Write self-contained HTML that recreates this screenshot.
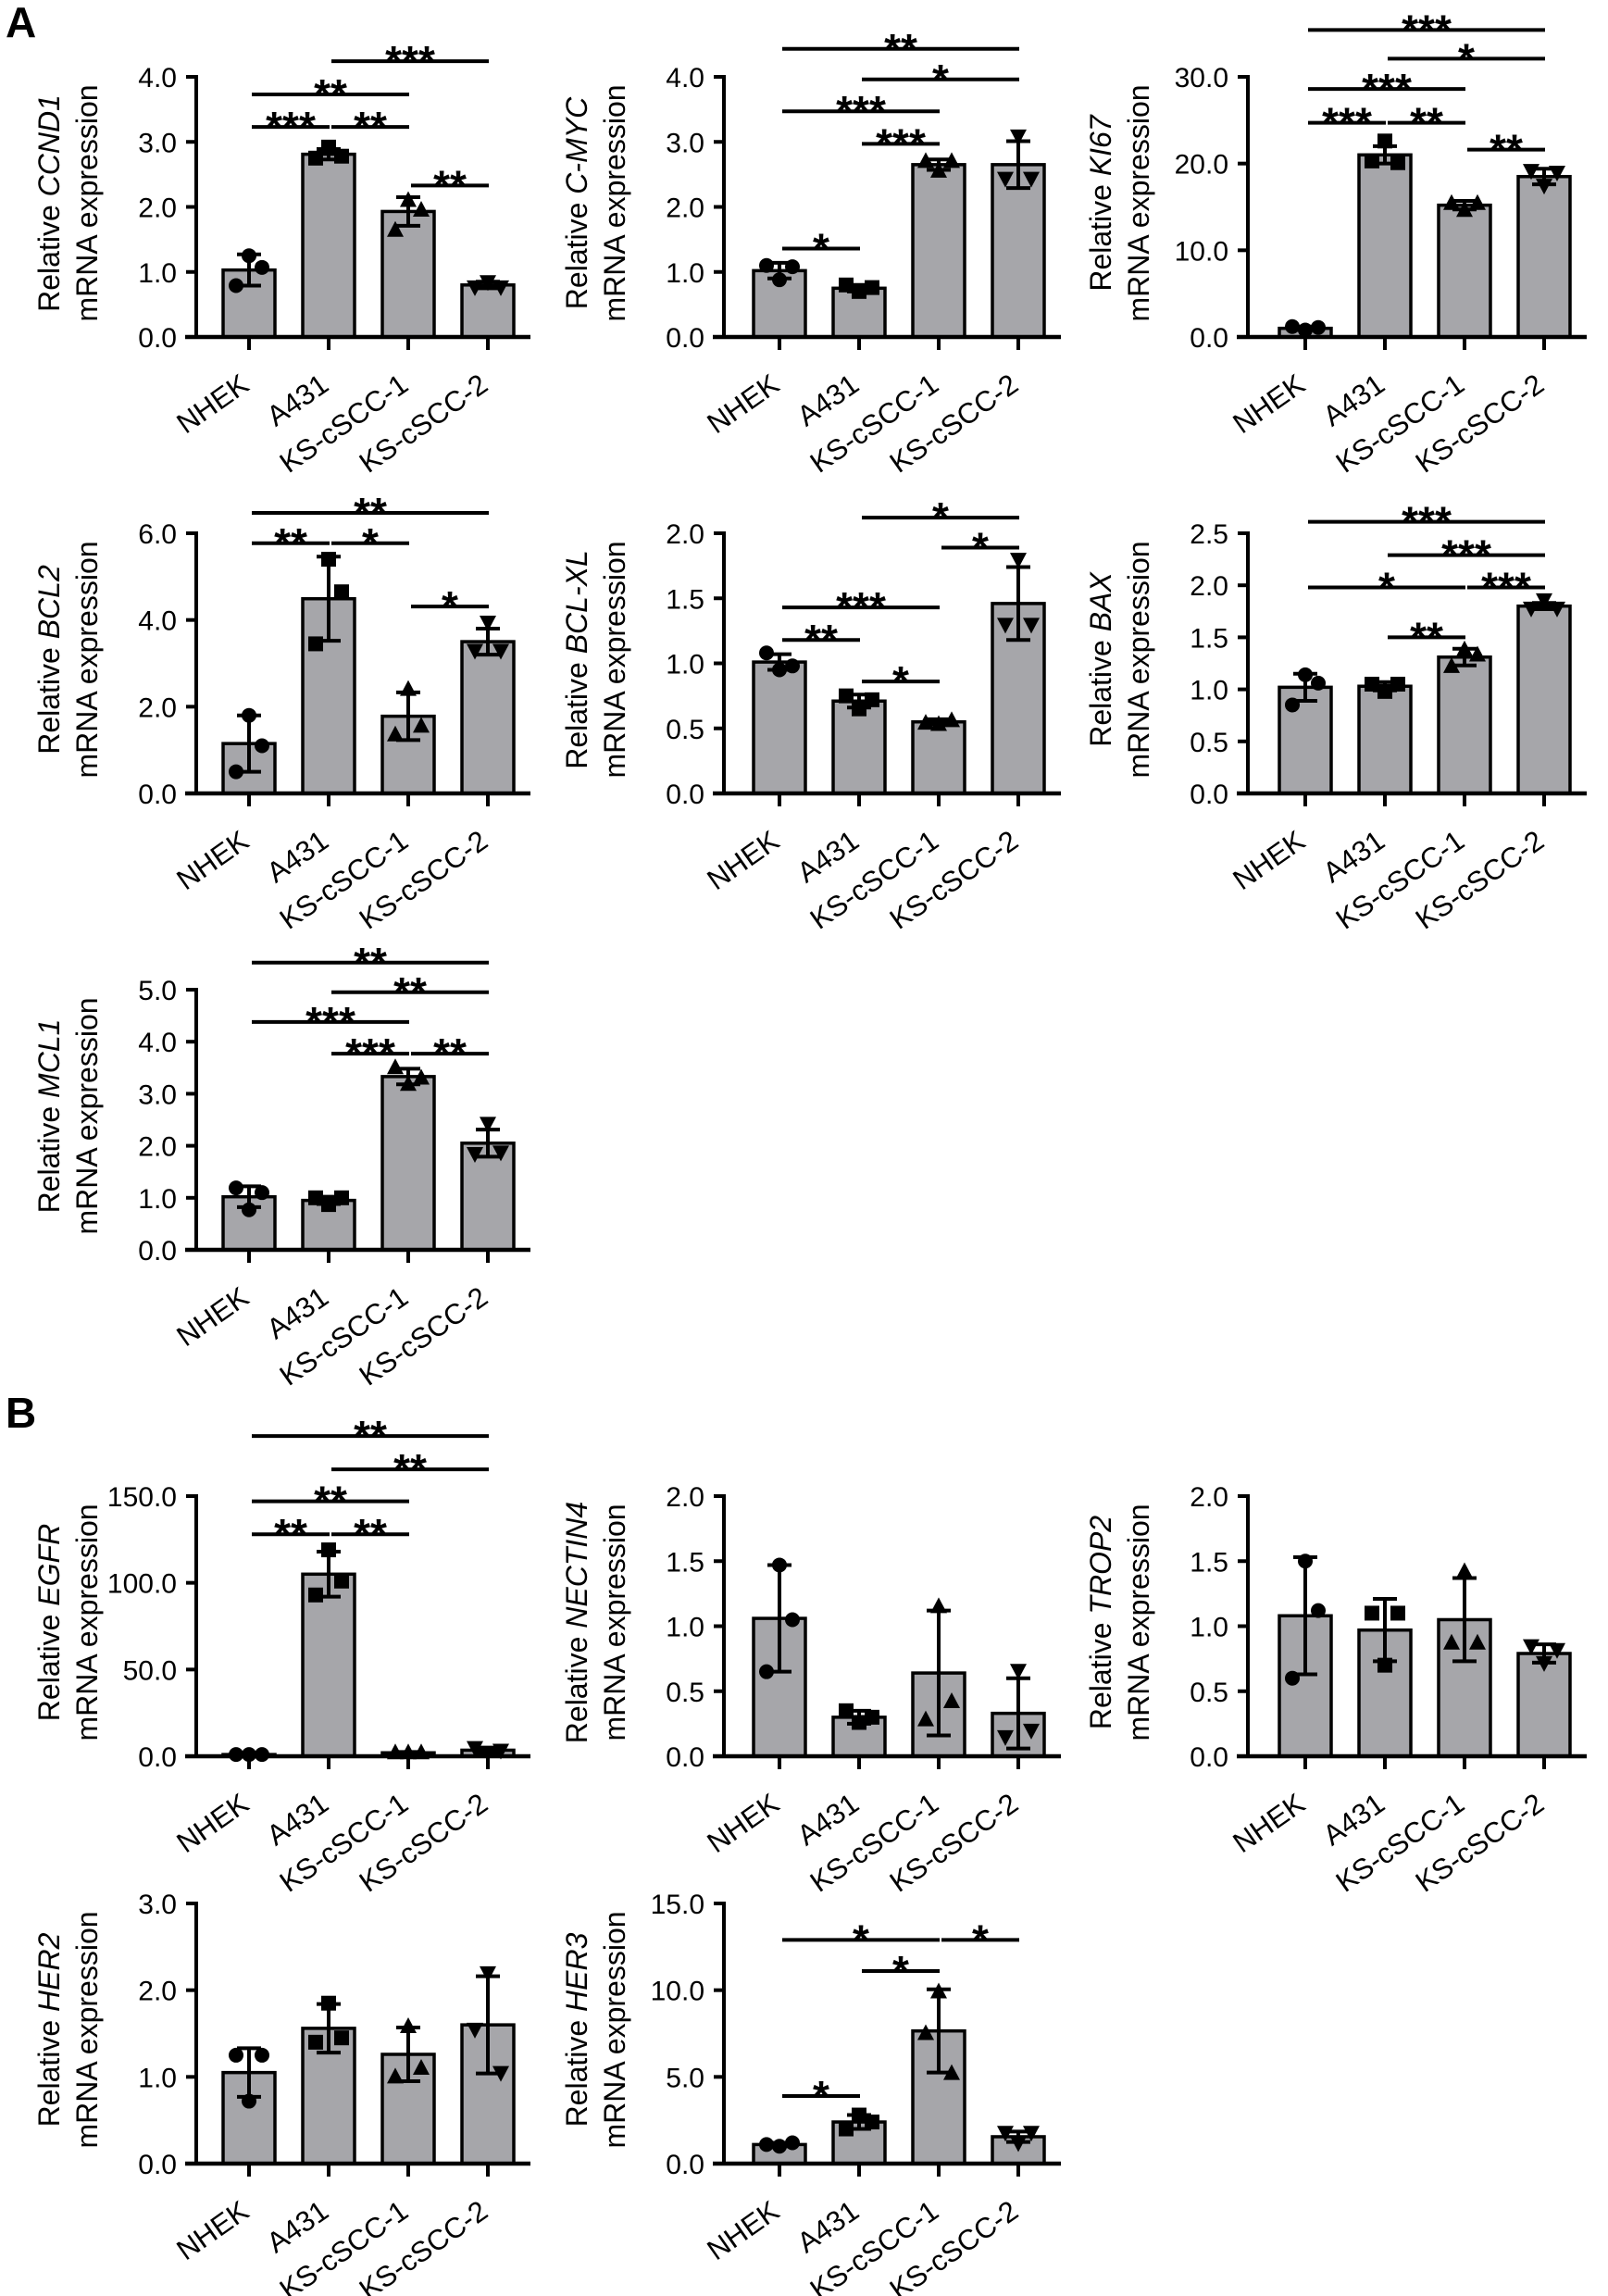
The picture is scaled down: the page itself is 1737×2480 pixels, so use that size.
<!DOCTYPE html>
<html><head><meta charset="utf-8"><title>Relative mRNA expression</title>
<style>
html,body{margin:0;padding:0;background:#fff;}
svg{display:block;font-family:"Liberation Sans",Arial,sans-serif;}
</style></head>
<body>
<svg id="fig" width="1737" height="2480" viewBox="0 0 1737 2480" xmlns="http://www.w3.org/2000/svg">
<text x="6" y="40" font-size="46" font-weight="bold">A</text>
<text x="6" y="1542" font-size="46" font-weight="bold">B</text>
</svg>
<script>
const categories = ['NHEK','A431','KS-cSCC-1','KS-cSCC-2'];

const ccnd1Mean = [1.03,2.81,1.93,0.80];
const ccnd1Sd = [0.24,0.08,0.22,0.05];
const ccnd1Pts = [[0.79,1.25,1.07],[2.75,2.92,2.78],[1.64,2.10,1.95],[0.77,0.85,0.77]];
const ccnd1Ticks = [0,1,2,3,4];
const ccnd1Sig = [[1,3,4.24,'***'],[0,2,3.73,'**'],[0,1,3.23,'***'],[1,2,3.23,'**'],[2,3,2.33,'**']];

const cmycMean = [1.02,0.75,2.65,2.65];
const cmycSd = [0.12,0.05,0.08,0.36];
const cmycPts = [[1.10,0.88,1.08],[0.80,0.70,0.76],[2.70,2.55,2.70],[2.44,3.09,2.44]];
const cmycTicks = [0,1,2,3,4];
const cmycSig = [[0,3,4.43,'**'],[1,3,3.96,'*'],[0,2,3.47,'***'],[1,2,2.97,'***'],[0,1,1.36,'*']];

const ki67Mean = [1.0,21.0,15.2,18.5];
const ki67Sd = [0.2,1.0,0.5,0.9];
const ki67Pts = [[1.2,0.8,1.1],[20.3,22.6,20.1],[15.4,14.6,15.4],[19.2,17.5,19.0]];
const ki67Ticks = [0,10,20,30];
const ki67Sig = [[0,3,35.4,'***'],[1,3,32.1,'*'],[0,2,28.6,'***'],[0,1,24.7,'***'],[1,2,24.7,'**'],[2,3,21.6,'**']];

const bcl2Mean = [1.15,4.49,1.78,3.50];
const bcl2Sd = [0.65,0.97,0.55,0.30];
const bcl2Pts = [[0.50,1.80,1.10],[3.45,5.40,4.65],[1.35,2.40,1.55],[3.30,3.95,3.30]];
const bcl2Ticks = [0,2,4,6];
const bcl2Sig = [[0,3,6.47,'**'],[0,1,5.77,'**'],[1,2,5.77,'*'],[2,3,4.31,'*']];

const bclxlMean = [1.01,0.71,0.55,1.46];
const bclxlSd = [0.06,0.05,0.02,0.28];
const bclxlPts = [[1.08,0.95,0.98],[0.75,0.65,0.72],[0.54,0.53,0.56],[1.30,1.80,1.30]];
const bclxlTicks = [0,0.5,1.0,1.5,2.0];
const bclxlSig = [[1,3,2.12,'*'],[2,3,1.89,'*'],[0,2,1.43,'***'],[0,1,1.18,'**'],[1,2,0.86,'*']];

const baxMean = [1.02,1.03,1.31,1.80];
const baxSd = [0.13,0.04,0.08,0.03];
const baxPts = [[0.85,1.14,1.06],[1.05,0.98,1.05],[1.22,1.38,1.33],[1.78,1.86,1.78]];
const baxTicks = [0,0.5,1.0,1.5,2.0,2.5];
const baxSig = [[0,3,2.61,'***'],[1,3,2.29,'***'],[0,2,1.98,'*'],[2,3,1.98,'***'],[1,2,1.50,'**']];

const mcl1Mean = [1.02,0.95,3.33,2.05];
const mcl1Sd = [0.20,0.07,0.15,0.26];
const mcl1Pts = [[1.19,0.77,1.10],[1.00,0.87,1.00],[3.50,3.18,3.30],[1.85,2.43,1.88]];
const mcl1Ticks = [0,1,2,3,4,5];
const mcl1Sig = [[0,3,5.52,'**'],[1,3,4.95,'**'],[0,2,4.38,'***'],[1,2,3.77,'***'],[2,3,3.77,'**']];

const egfrMean = [1.0,105.0,2.0,3.5];
const egfrSd = [0.3,13.0,0.5,1.5];
const egfrPts = [[1.0,1.0,1.0],[93,119,101],[2,2,2],[5,2,3.5]];
const egfrTicks = [0,50,100,150];
const egfrSig = [[0,3,184.6,'**'],[1,3,165.4,'**'],[0,2,147,'**'],[0,1,128,'**'],[1,2,128,'**']];

const nectin4Mean = [1.06,0.30,0.64,0.33];
const nectin4Sd = [0.41,0.05,0.48,0.27];
const nectin4Pts = [[0.65,1.47,1.05],[0.35,0.26,0.30],[0.28,1.15,0.42],[0.15,0.66,0.20]];
const nectin4Ticks = [0,0.5,1.0,1.5,2.0];
const nectin4Sig = [];

const trop2Mean = [1.08,0.97,1.05,0.79];
const trop2Sd = [0.45,0.24,0.32,0.07];
const trop2Pts = [[0.60,1.50,1.12],[1.10,0.70,1.10],[0.87,1.42,0.87],[0.85,0.72,0.82]];
const trop2Ticks = [0,0.5,1.0,1.5,2.0];
const trop2Sig = [];

const her2Mean = [1.05,1.56,1.26,1.60];
const her2Sd = [0.28,0.28,0.31,0.56];
const her2Pts = [[1.25,0.72,1.25],[1.40,1.85,1.45],[1.00,1.58,1.10],[1.55,2.20,1.05]];
const her2Ticks = [0,1,2,3];
const her2Sig = [];

const her3Mean = [1.1,2.4,7.65,1.55];
const her3Sd = [0.1,0.4,2.4,0.3];
const her3Pts = [[1.1,1.0,1.2],[2.0,2.8,2.4],[7.5,9.9,5.2],[1.8,1.2,1.8]];
const her3Ticks = [0,5,10,15];
const her3Sig = [[0,2,12.9,'*'],[2,3,12.9,'*'],[1,2,11.1,'*'],[0,1,3.9,'*']];

const axisXs = [212, 782, 1348];
const bar0Xs = [269, 842, 1410];
const zeroYs = [364, 857, 1350, 1897, 2337];
const PH = 281, STEP = 86, BW = 56;

const panels = [
 {id:'ccnd1', gene:'CCND1', col:0,row:0, mean:ccnd1Mean, sd:ccnd1Sd, pts:ccnd1Pts, ticks:ccnd1Ticks, sig:ccnd1Sig},
 {id:'cmyc', gene:'C-MYC', col:1,row:0, mean:cmycMean, sd:cmycSd, pts:cmycPts, ticks:cmycTicks, sig:cmycSig},
 {id:'ki67', gene:'KI67', col:2,row:0, mean:ki67Mean, sd:ki67Sd, pts:ki67Pts, ticks:ki67Ticks, sig:ki67Sig},
 {id:'bcl2', gene:'BCL2', col:0,row:1, mean:bcl2Mean, sd:bcl2Sd, pts:bcl2Pts, ticks:bcl2Ticks, sig:bcl2Sig},
 {id:'bclxl', gene:'BCL-XL', col:1,row:1, mean:bclxlMean, sd:bclxlSd, pts:bclxlPts, ticks:bclxlTicks, sig:bclxlSig},
 {id:'bax', gene:'BAX', col:2,row:1, mean:baxMean, sd:baxSd, pts:baxPts, ticks:baxTicks, sig:baxSig},
 {id:'mcl1', gene:'MCL1', col:0,row:2, mean:mcl1Mean, sd:mcl1Sd, pts:mcl1Pts, ticks:mcl1Ticks, sig:mcl1Sig},
 {id:'egfr', gene:'EGFR', col:0,row:3, mean:egfrMean, sd:egfrSd, pts:egfrPts, ticks:egfrTicks, sig:egfrSig},
 {id:'nectin4', gene:'NECTIN4', col:1,row:3, mean:nectin4Mean, sd:nectin4Sd, pts:nectin4Pts, ticks:nectin4Ticks, sig:nectin4Sig},
 {id:'trop2', gene:'TROP2', col:2,row:3, mean:trop2Mean, sd:trop2Sd, pts:trop2Pts, ticks:trop2Ticks, sig:trop2Sig},
 {id:'her2', gene:'HER2', col:0,row:4, mean:her2Mean, sd:her2Sd, pts:her2Pts, ticks:her2Ticks, sig:her2Sig},
 {id:'her3', gene:'HER3', col:1,row:4, mean:her3Mean, sd:her3Sd, pts:her3Pts, ticks:her3Ticks, sig:her3Sig}
];

const NS='http://www.w3.org/2000/svg';
const svg=document.getElementById('fig');
function mk(tag, attrs, parent){
  const e=document.createElementNS(NS,tag);
  for(const k in attrs) e.setAttribute(k, attrs[k]);
  (parent||svg).appendChild(e);
  return e;
}
function fmt(v){ return v.toFixed(1); }

panels.forEach(p=>{
  const ax=axisXs[p.col], b0=bar0Xs[p.col], z=zeroYs[p.row];
  const ymax=p.ticks[p.ticks.length-1];
  const yS=v=> z - v/ymax*PH;
  const xS=i=> b0 + i*STEP;
  const g=mk('g',{});
  
  

  p.mean.forEach((m,i)=>{
    const r=mk('rect',{x:xS(i)-BW/2, y:yS(m), width:BW, height:z-yS(m), fill:'#a6a6aa', stroke:'#000','stroke-width':3.5}, g);
    
    
  });
  const offs=[-14,0,14];
  p.pts.forEach((arr,i)=>{
    arr.forEach((v,k)=>{
      const cx=xS(i)+offs[k], cy=yS(v);
      let el;
      if(i===0) el=mk('circle',{cx:cx,cy:cy,r:8,fill:'#000'},g);
      else if(i===1) el=mk('rect',{x:cx-8,y:cy-8,width:16,height:16,fill:'#000'},g);
      else if(i===2) el=mk('polygon',{points:`${cx},${cy-10} ${cx+9},${cy+7} ${cx-9},${cy+7}`,fill:'#000'},g);
      else el=mk('polygon',{points:`${cx},${cy+10} ${cx+9},${cy-7} ${cx-9},${cy-7}`,fill:'#000'},g);
      
      
    });
  });
  p.mean.forEach((m,i)=>{
    const x=xS(i), hi=yS(m+p.sd[i]), lo=yS(Math.max(0,m-p.sd[i]));
    const eb=mk('path',{d:`M${x},${hi}V${lo}M${x-13},${hi}H${x+13}M${x-13},${lo}H${x+13}`,stroke:'#000','stroke-width':4,fill:'none'},g);
    
    
  });
  const ya=mk('line',{x1:ax,y1:yS(ymax)-2,x2:ax,y2:z,stroke:'#000','stroke-width':4},g);
  
  
  const xa=mk('line',{x1:ax-12,y1:z,x2:xS(3)+46,y2:z,stroke:'#000','stroke-width':4.5},g);
  
  
  p.ticks.forEach(t=>{
    const y=yS(t);
    mk('line',{x1:ax-11,y1:y,x2:ax,y2:y,stroke:'#000','stroke-width':4},g);
    const tl=mk('text',{x:ax-21,y:y+11,'text-anchor':'end','font-size':30},g);
    tl.textContent=fmt(t);
    
    
  });
  categories.forEach((c,i)=>{
    const x=xS(i);
    mk('line',{x1:x,y1:z,x2:x,y2:z+14,stroke:'#000','stroke-width':4},g);
    const cl=mk('text',{transform:`translate(${x+2},${z+56}) rotate(-35)`,'text-anchor':'end','font-size':31},g);
    cl.textContent=c;
    
    
  });
  const cy=z-PH/2-4;
  const t1=mk('text',{transform:`translate(${ax-159},${cy}) rotate(-90)`,'text-anchor':'middle','dominant-baseline':'central','font-size':32},g);
  t1.appendChild(document.createTextNode('Relative '));
  const it=mk('tspan',{'font-style':'italic'},t1); it.textContent=p.gene;
  
  
  const t2=mk('text',{transform:`translate(${ax-118},${cy}) rotate(-90)`,'text-anchor':'middle','dominant-baseline':'central','font-size':32},g);
  t2.textContent='mRNA expression';
  
  
  p.sig.forEach(s=>{
    const y=yS(s[2]), x1=xS(s[0])+3, x2=xS(s[1])+1;
    const ln=mk('line',{x1:x1,y1:y,x2:x2,y2:y,stroke:'#000','stroke-width':4},g);
    
    
    const st=mk('text',{x:(x1+x2)/2,y:y+16,'text-anchor':'middle','font-size':46,'font-weight':'bold'},g);
    st.textContent=s[3];
    
    
  });
});
</script>
</body></html>
